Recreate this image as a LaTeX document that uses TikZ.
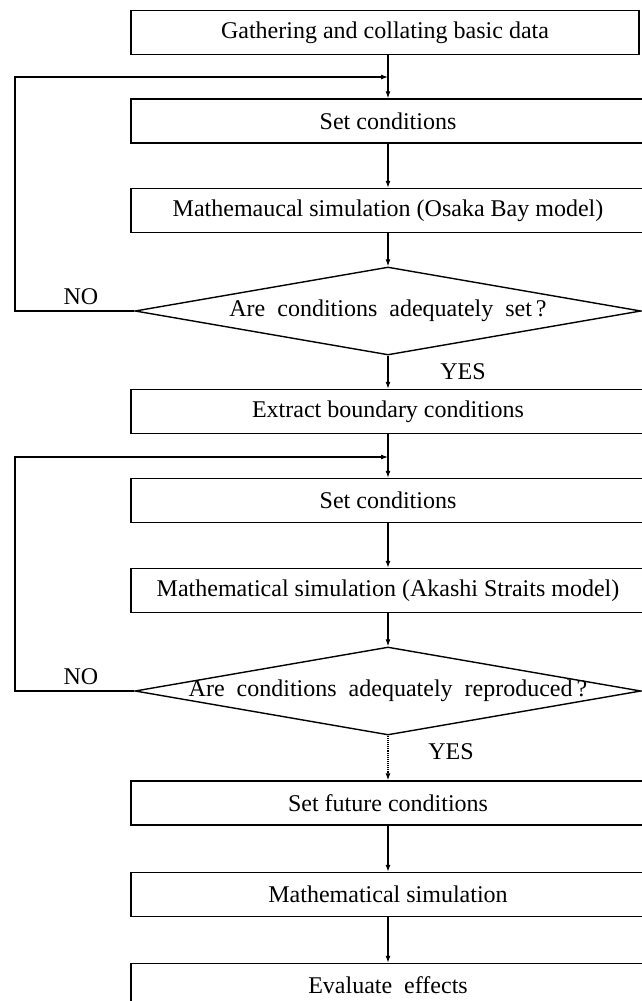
\documentclass[tikz,border=0pt]{standalone}
\usepackage{fontspec}
\setmainfont{Liberation Serif}
\usetikzlibrary{shapes.geometric,arrows.meta}
\begin{document}
\begin{tikzpicture}[x=1pt,y=-1pt,
  txt/.style={font=\fontsize{24}{28}\selectfont},
  box/.style={draw,line width=1.4pt,minimum height=44pt,inner sep=0pt,txt},
  wbox/.style={box,minimum width=514pt},
  dia/.style={draw,shape=diamond,line width=1.4pt,minimum width=506pt,minimum height=88pt,inner sep=0pt},
  conn/.style={line width=1.1pt,-{Latex[length=7pt,width=5pt]}},
  lbl/.style={txt,inner sep=0pt}
]
\useasboundingbox (0,0) rectangle (641,1001);

\node[box,minimum width=508pt] (b1) at (385,32.5) {Gathering and collating basic data};
\node[wbox] (b2) at (388,121) {Set conditions};
\node[wbox] (b3) at (388,210.5) {Mathemaucal simulation (Osaka Bay model)};
\node[dia] (d1) at (388,311) {};
\node[lbl] (t1) at (388,311) {Are\ \ conditions\ \ adequately\ \ set\,?};
\node[wbox] (b4) at (388,411.5) {Extract boundary conditions};
\node[wbox] (b5) at (388,500.5) {Set conditions};
\node[wbox] (b6) at (388,590.5) {Mathematical simulation (Akashi Straits model)};
\node[dia] (d2) at (388,691) {};
\node[lbl] (t2) at (388,691) {Are\ \ conditions\ \ adequately\ \ reproduced\,?};
\node[wbox] (b7) at (388,803) {Set future conditions};
\node[wbox] (b8) at (388,894.5) {Mathematical simulation};
\node[wbox] (b9) at (388,985.5) {Evaluate\ \ effects};

\node[lbl] (no1) at (81,297) {NO};
\node[lbl] (yes1) at (463,372) {YES};
\node[lbl] (no2) at (81,677) {NO};
\node[lbl] (yes2) at (451,752) {YES};

\coordinate (j1) at (388,77);
\coordinate (c1) at (15,311);
\coordinate (j2) at (388,457);
\coordinate (c2) at (15,691);

\draw[conn] (b1.south -| b2.north) -- (b2.north);
\draw[conn] (d1.west) -- (c1) |- (j1);
\draw[conn] (b2.south) -- (b3.north);
\draw[conn] (b3.south) -- (d1.north);
\draw[conn] (d1.south) -- (b4.north);
\draw[conn] (b4.south) -- (b5.north);
\draw[conn] (d2.west) -- (c2) |- (j2);
\draw[conn] (b5.south) -- (b6.north);
\draw[conn] (b6.south) -- (d2.north);
\draw[conn,densely dotted] (d2.south) -- (b7.north);
\draw[conn] (b7.south) -- (b8.north);
\draw[conn] (b8.south) -- (b9.north);
\end{tikzpicture}
\end{document}
